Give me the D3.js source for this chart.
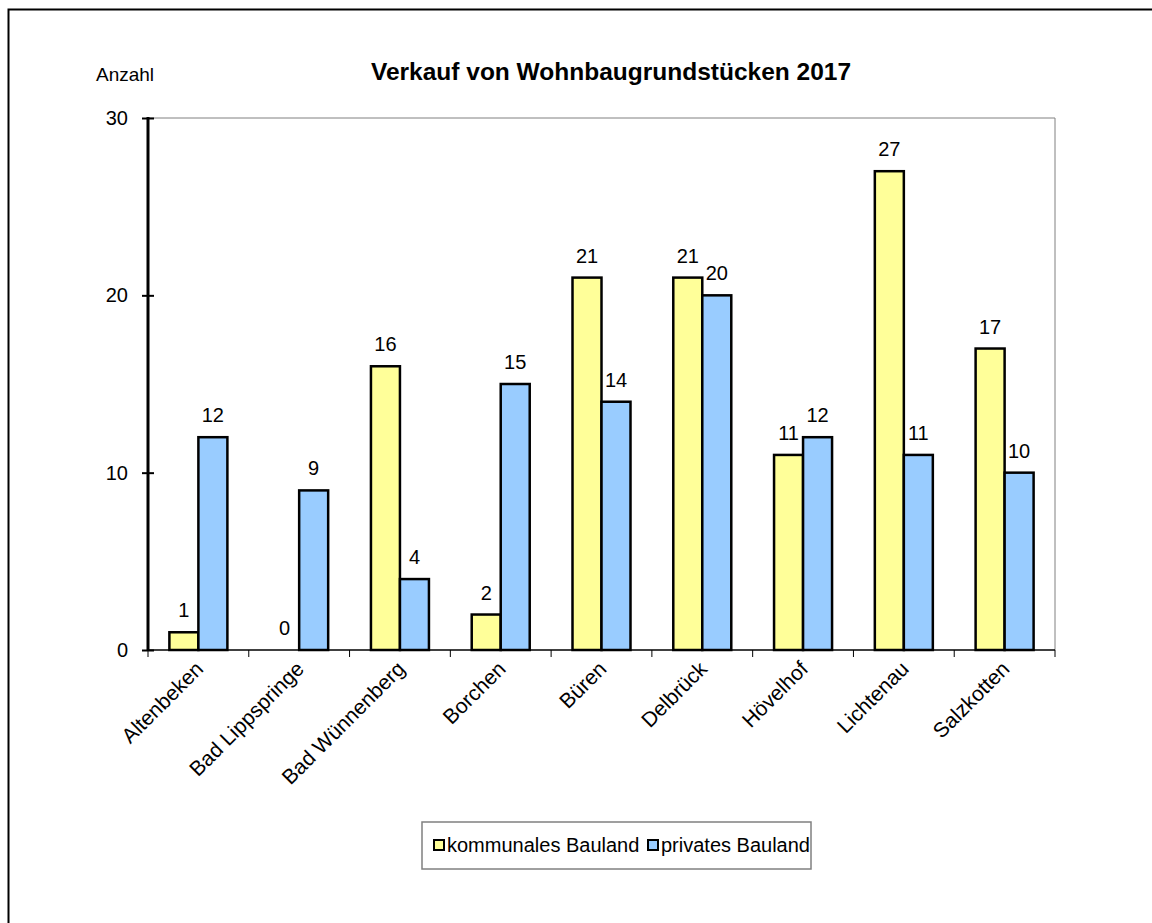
<!DOCTYPE html>
<html><head><meta charset="utf-8">
<script src="https://cdn.jsdelivr.net/npm/d3@7"></script>
<style>body{margin:0;background:#fff}svg{display:block;font-family:"Liberation Sans",Arial,sans-serif}</style>
</head><body>
<svg id="c" width="1152" height="923"></svg>
<script>
const categories = ["Altenbeken","Bad Lippspringe","Bad Wünnenberg","Borchen","Büren","Delbrück","Hövelhof","Lichtenau","Salzkotten"];
const kommunal = [1,0,16,2,21,21,11,27,17];
const privat = [12,9,4,15,14,20,12,11,10];
const seriesNames = ["kommunales Bauland","privates Bauland"];
const seriesColors = ["#FFFF99","#99CCFF"];
const yTicks = [0,10,20,30];

const svg = d3.select("#c");
// outer frame
svg.append("rect").attr("x",8.5).attr("y",9.5).attr("width",1160).attr("height",930)
  .attr("fill","none").attr("stroke","#000").attr("stroke-width",2);

const L=148,R=1055,T=118,B=650;
const x = d3.scaleBand().domain(categories).range([L,R]).paddingInner(0).paddingOuter(0);
const y = d3.scaleLinear().domain([0,30]).range([B,T]);
const barW = 29;
const FS = 20;

// plot area border (gray top & right)
svg.append("path").attr("d",`M${L},${T}H${R}V${B}`).attr("fill","none").attr("stroke","#808080").attr("stroke-width",1);

// bars
const series=[kommunal,privat];
series.forEach((vals,si)=>{
  const g=svg.append("g");
  categories.forEach((c,i)=>{
    const cx = x(c)+x.bandwidth()/2;
    const x0 = cx - barW + si*barW;
    const v = vals[i];
    if(v>0){
      g.append("rect").attr("x",x0).attr("y",y(v)).attr("width",barW).attr("height",y(0)-y(v))
        .attr("fill",seriesColors[si]).attr("stroke","#000").attr("stroke-width",2.5);
    }
    g.append("text").attr("x",x0+barW/2).attr("y",y(v)-15).attr("text-anchor","middle")
      .attr("font-size",FS).text(v);
  });
});

// x axis
const xAxis = svg.append("g").attr("transform",`translate(0,${B})`);
xAxis.append("line").attr("x1",L).attr("x2",R).attr("stroke","#000").attr("stroke-width",1.5);
const edges = categories.map(c=>x(c)).concat([R]);
edges.forEach(e=>xAxis.append("line").attr("x1",e).attr("x2",e).attr("y1",0).attr("y2",7).attr("stroke","#000").attr("stroke-width",1));
categories.forEach(c=>{
  const cx=x(c)+x.bandwidth()/2+1;
  xAxis.append("text").attr("transform",`translate(${cx},15) rotate(-45)`).attr("text-anchor","end")
    .attr("dy","0.35em").attr("font-size",21).text(c);
});

// y axis
const yAxis = svg.append("g").attr("transform",`translate(${L},0)`)
  .call(d3.axisLeft(y).tickValues(yTicks).tickSize(6).tickSizeOuter(0).tickPadding(14));
yAxis.select(".domain").attr("stroke","#000").attr("stroke-width",3).attr("d",`M0,${T-1}V${B+1}`);
yAxis.selectAll(".tick line").attr("x2",6).attr("x1",-6).attr("stroke-width",2);
yAxis.selectAll(".tick text").attr("font-size",FS).attr("font-family","Liberation Sans, Arial, sans-serif").attr("fill","#000");

svg.append("text").attr("x",96).attr("y",81).attr("font-size",19).text("Anzahl");
svg.append("text").attr("x",611).attr("y",80).attr("text-anchor","middle").attr("font-size",24.5)
  .attr("font-weight","bold").text("Verkauf von Wohnbaugrundstücken 2017");

// legend
const lg = svg.append("g");
lg.append("rect").attr("x",422).attr("y",822).attr("width",389).attr("height",47).attr("fill","#fff").attr("stroke","#808080").attr("stroke-width",1.5);
const legX=[434,648];
seriesNames.forEach((n,i)=>{
  lg.append("rect").attr("x",legX[i]).attr("y",840).attr("width",10).attr("height",10).attr("fill",seriesColors[i]).attr("stroke","#000").attr("stroke-width",2);
  lg.append("text").attr("x",legX[i]+13).attr("y",852).attr("font-size",FS).text(n);
});
</script>
</body></html>
